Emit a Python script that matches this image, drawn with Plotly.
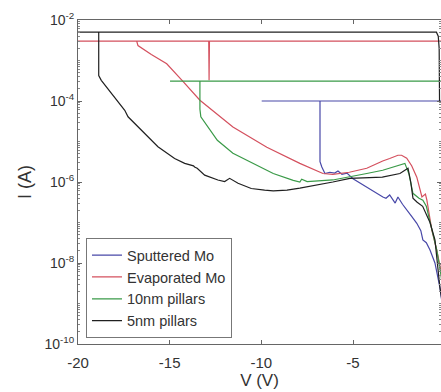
import plotly.graph_objects as go

# ---- data (V in volts, log10 of current in A) ----
sput_v = [-0.05, -0.26, -0.53, -0.8, -1.0, -1.19, -1.3, -1.52, -1.8, -2.07, -2.3, -2.55, -2.7, -3.0, -3.2,
          -3.37, -3.8, -4.24, -4.6, -5.0, -5.33, -5.6, -5.82, -6.0, -6.26, -6.53, -6.7, -6.8,
          -6.8, -9.98, 0.0]
sput_logi = [-9.3, -8.6, -8.0, -7.68, -7.5, -7.43, -7.2, -7.02, -6.85, -6.69, -6.55, -6.37, -6.52, -6.32, -6.4,
             -6.37, -6.25, -6.12, -6.02, -5.92, -5.78, -5.81, -5.73, -5.78, -5.76, -5.79, -5.63, -5.5,
             -4.0, -4.0, -4.0]

evap_v = [-0.05, -0.2, -0.43, -0.7, -0.97, -1.05, -1.24, -1.52, -1.8, -2.07, -2.35, -2.55, -3.0, -3.38,
          -4.25, -5.2, -6.1, -6.64, -7.9, -9.7, -11.55, -13.35, -14.35, -15.16, -16.0, -16.73, -16.8,
          -20.0, -12.87, -12.85, -12.83, 0.0]
evap_logi = [-8.9, -8.2, -7.68, -7.19, -6.45, -6.3, -6.37, -5.88, -5.6, -5.41, -5.34, -5.34, -5.42, -5.48,
             -5.66, -5.76, -5.81, -5.79, -5.54, -5.14, -4.64, -3.98, -3.48, -3.08, -2.85, -2.63, -2.52,
             -2.52, -2.52, -3.49, -2.52, -2.52]

p10_v = [-0.05, -0.2, -0.43, -0.8, -1.0, -1.19, -1.4, -1.73, -1.95, -2.17, -2.44, -3.38, -4.25, -5.17,
         -6.1, -7.5, -7.8, -7.9, -8.26, -9.35, -10.45, -11.55, -12.4, -13.08, -13.3, -13.35,
         -13.35, -14.98, 0.0]
p10_logi = [-8.9, -8.3, -7.68, -7.0, -6.6, -6.45, -6.4, -6.28, -5.8, -5.54, -5.58, -5.71, -5.79, -5.87,
            -5.95, -5.99, -5.93, -6.0, -5.96, -5.79, -5.54, -5.29, -4.97, -4.55, -4.39, -4.2,
            -3.51, -3.51, -3.51]

p5_v = [-0.05, -0.26, -0.53, -0.8, -1.2, -1.5, -1.73, -1.85, -2.0, -2.44, -3.4, -4.3, -5.17, -6.1, -7.0,
        -7.9, -8.6, -9.35, -9.82, -10.55, -11.27, -11.73, -12.0, -12.37, -13.09, -13.5, -13.64, -13.7,
        -14.18, -14.73, -15.64, -16.36, -17.27, -17.45, -18.18, -18.73, -18.87,
        -18.87, -20.0, -0.45, -0.35, -0.3, -0.28]
p5_logi = [-9.2, -8.6, -7.43, -7.0, -6.6, -6.5, -6.4, -6.0, -5.66, -5.79, -5.88, -5.9, -5.91, -6.0, -6.08,
           -6.15, -6.2, -6.22, -6.2, -6.16, -6.03, -5.91, -5.99, -5.95, -5.83, -5.66, -5.63, -5.6,
           -5.54, -5.42, -5.13, -4.8, -4.39, -4.23, -3.82, -3.49, -3.37,
           -2.3, -2.3, -2.3, -2.4, -2.7, -4.0]

series_names = ["Sputtered Mo", "Evaporated Mo", "10nm pillars", "5nm pillars"]
series_colors = ["#4848a8", "#d4505e", "#3a9a48", "#202020"]

y_tick_vals = [1e-2, 1e-4, 1e-6, 1e-8, 1e-10]
y_tick_text = ["10<sup>-2</sup>", "10<sup>-4</sup>", "10<sup>-6</sup>", "10<sup>-8</sup>", "10<sup>-10</sup>"]
x_tick_vals = [-20, -15, -10, -5, 0]
x_tick_text = ["-20", "-15", "-10", "-5", "0"]

fig = go.Figure()
for name, color, vs, ls in zip(series_names, series_colors,
                               [sput_v, evap_v, p10_v, p5_v],
                               [sput_logi, evap_logi, p10_logi, p5_logi]):
    fig.add_trace(go.Scatter(x=vs, y=[10 ** v for v in ls], mode="lines", name=name,
                             line=dict(color=color, width=1.2)))

minor_vals = [k * 10.0 ** e for e in range(-10, -2) for k in range(2, 10)] + [10.0 ** e for e in (-9, -7, -5, -3)]

font = dict(family="Liberation Sans, Arial, sans-serif", color="#333333")
fig.update_layout(
    width=441, height=392,
    margin=dict(l=78, r=0, t=20, b=48, autoexpand=False),
    paper_bgcolor="white", plot_bgcolor="white",
    font=dict(size=14, **font),
    showlegend=True,
    legend=dict(x=0.022, y=0.018, xanchor="left", yanchor="bottom",
                bgcolor="white", bordercolor="#777777", borderwidth=1,
                font=dict(size=14.5, **font), itemwidth=30, tracegroupgap=0),
    xaxis=dict(range=[-20, -0.2], tickvals=x_tick_vals, ticktext=x_tick_text, automargin=False,
               ticks="inside", ticklen=4, tickcolor="#666666", mirror="ticks",
               showline=True, linecolor="#666666", linewidth=1, showgrid=False, zeroline=False,
               tickfont=dict(size=15, **font), ticklabelstandoff=5,
               title=dict(text="V (V)", font=dict(size=17, **font), standoff=2)),
    yaxis=dict(type="log", range=[-10, -2], tickvals=y_tick_vals, ticktext=y_tick_text, automargin=False,
               ticks="inside", ticklen=4, tickcolor="#666666", mirror="ticks",
               showline=True, linecolor="#666666", linewidth=1, showgrid=False,
               minor=dict(ticks="inside", ticklen=2, tickcolor="#888888", tickvals=minor_vals),
               tickfont=dict(size=14, **font),
               title=dict(text="I (A)", font=dict(size=18, **font), standoff=8)),
)
fig.write_html("out.html", config={"displayModeBar": False},
               post_script="document.body.style.margin='0';document.body.style.overflow='hidden';")
